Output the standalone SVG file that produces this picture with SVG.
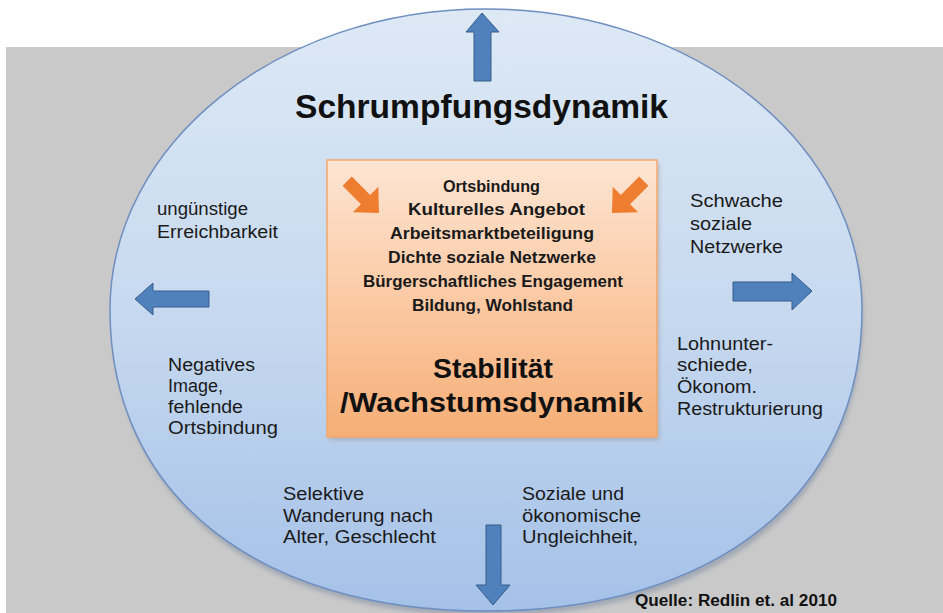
<svg xmlns="http://www.w3.org/2000/svg" width="943" height="613" viewBox="0 0 943 613">
  <defs>
    <linearGradient id="gEll" x1="0" y1="0" x2="0" y2="1">
      <stop offset="0" stop-color="#dde9f5"/>
      <stop offset="0.5" stop-color="#c7d9ef"/>
      <stop offset="1" stop-color="#a4c1e8"/>
    </linearGradient>
    <linearGradient id="gBox" x1="0" y1="0" x2="0" y2="1">
      <stop offset="0" stop-color="#fde5d3"/>
      <stop offset="0.5" stop-color="#fbcaa5"/>
      <stop offset="1" stop-color="#f6ae76"/>
    </linearGradient>
    <filter id="blur" x="-10%" y="-10%" width="120%" height="120%">
      <feGaussianBlur stdDeviation="2"/>
    </filter>
    <style>
      .lbl { font-family: "Liberation Sans", Arial, sans-serif; font-size: 17.5px; fill: #1a1a1a; }
      .box { font-family: "Liberation Sans", Arial, sans-serif; font-size: 17px; font-weight: bold; fill: #1a1a1a; }
      .big { font-family: "Liberation Sans", Arial, sans-serif; font-size: 28px; font-weight: bold; fill: #111; }
      .ttl { font-family: "Liberation Sans", Arial, sans-serif; font-size: 33px; font-weight: bold; fill: #111; }
      .src { font-family: "Liberation Sans", Arial, sans-serif; font-size: 16px; font-weight: bold; fill: #111; }
      .blue { fill: #4f81bd; stroke: #385d8a; stroke-width: 1; }
      .orange { fill: #ef7d2f; }
    </style>
  </defs>

  <g id="background">
    <rect x="0" y="0" width="943" height="613" fill="#ffffff"/>
    <rect x="6" y="47" width="937" height="566" fill="#c9c9c9"/>
  </g>

  <g id="circle">
    <path d="M112,313 C112,148 281,9 486,9 C691,9 862,148 862,313 C862,500 716,614 486,614 C256,614 112,500 112,313 Z" fill="#7d8aa0" opacity="0.5" filter="url(#blur)" transform="translate(1,2)"/>
    <path d="M110,310 C110,143.8 278,9 486,9 C694,9 862,143.8 862,310 C862,494.5 716,611 486,611 C256,611 110,494.5 110,310 Z" fill="url(#gEll)" stroke="#6f8fc0" stroke-width="1.5"/>
  </g>

  <g id="title">
    <text class="ttl" x="295" y="118" textLength="373" lengthAdjust="spacingAndGlyphs">Schrumpfungsdynamik</text>
  </g>

  <g id="center-box">
    <rect x="329" y="163" width="330" height="277" fill="#9a8a80" opacity="0.45" filter="url(#blur)"/>
    <rect x="327" y="160" width="330" height="277" fill="url(#gBox)" stroke="#f2a86c" stroke-width="1.5"/>
    <text class="box" x="443" y="192" textLength="97" lengthAdjust="spacingAndGlyphs">Ortsbindung</text>
    <text class="box" x="408" y="215" textLength="177" lengthAdjust="spacingAndGlyphs">Kulturelles Angebot</text>
    <text class="box" x="390" y="239" textLength="204" lengthAdjust="spacingAndGlyphs">Arbeitsmarktbeteiligung</text>
    <text class="box" x="388" y="263" textLength="208" lengthAdjust="spacingAndGlyphs">Dichte soziale Netzwerke</text>
    <text class="box" x="363" y="287" textLength="260" lengthAdjust="spacingAndGlyphs">Bürgerschaftliches Engagement</text>
    <text class="box" x="412" y="311" textLength="161" lengthAdjust="spacingAndGlyphs">Bildung, Wohlstand</text>
    <text class="big" x="433" y="378" textLength="120" lengthAdjust="spacingAndGlyphs">Stabilität</text>
    <text class="big" x="340" y="412" textLength="303" lengthAdjust="spacingAndGlyphs">/Wachstumsdynamik</text>
  </g>

  <g id="label-left-top">
    <text class="lbl" x="157" y="215" textLength="91" lengthAdjust="spacingAndGlyphs">ungünstige</text>
    <text class="lbl" x="157" y="238" textLength="121" lengthAdjust="spacingAndGlyphs">Erreichbarkeit</text>
  </g>
  <g id="label-left-bottom">
    <text class="lbl" x="168" y="371" textLength="87" lengthAdjust="spacingAndGlyphs">Negatives</text>
    <text class="lbl" x="168" y="392" textLength="55" lengthAdjust="spacingAndGlyphs">Image,</text>
    <text class="lbl" x="168" y="413" textLength="75" lengthAdjust="spacingAndGlyphs">fehlende</text>
    <text class="lbl" x="168" y="434" textLength="110" lengthAdjust="spacingAndGlyphs">Ortsbindung</text>
  </g>
  <g id="label-right-top">
    <text class="lbl" x="690" y="207" textLength="93" lengthAdjust="spacingAndGlyphs">Schwache</text>
    <text class="lbl" x="690" y="230" textLength="62" lengthAdjust="spacingAndGlyphs">soziale</text>
    <text class="lbl" x="690" y="253" textLength="93" lengthAdjust="spacingAndGlyphs">Netzwerke</text>
  </g>
  <g id="label-right-bottom">
    <text class="lbl" x="677" y="350" textLength="96" lengthAdjust="spacingAndGlyphs">Lohnunter-</text>
    <text class="lbl" x="677" y="371" textLength="76" lengthAdjust="spacingAndGlyphs">schiede,</text>
    <text class="lbl" x="677" y="393" textLength="80" lengthAdjust="spacingAndGlyphs">Ökonom.</text>
    <text class="lbl" x="677" y="415" textLength="146" lengthAdjust="spacingAndGlyphs">Restrukturierung</text>
  </g>
  <g id="label-bottom-left">
    <text class="lbl" x="283" y="500" textLength="81" lengthAdjust="spacingAndGlyphs">Selektive</text>
    <text class="lbl" x="283" y="522" textLength="150" lengthAdjust="spacingAndGlyphs">Wanderung nach</text>
    <text class="lbl" x="283" y="543" textLength="153" lengthAdjust="spacingAndGlyphs">Alter, Geschlecht</text>
  </g>
  <g id="label-bottom-right">
    <text class="lbl" x="522" y="500" textLength="102" lengthAdjust="spacingAndGlyphs">Soziale und</text>
    <text class="lbl" x="522" y="522" textLength="119" lengthAdjust="spacingAndGlyphs">ökonomische</text>
    <text class="lbl" x="522" y="543" textLength="116" lengthAdjust="spacingAndGlyphs">Ungleichheit,</text>
  </g>
  <g id="source">
    <text class="src" x="635" y="606" textLength="202" lengthAdjust="spacingAndGlyphs">Quelle: Redlin et. al 2010</text>
  </g>

  <g id="connectors">
    <polygon class="blue" points="482,13 499,32 491,32 491,81 474,81 474,32 466,32"/>
    <polygon class="blue" points="135,299 153,283 153,291 209,291 209,307 153,307 153,315"/>
    <polygon class="blue" points="812,291 792,273 792,282 733,282 733,301 792,301 792,310"/>
    <polygon class="blue" points="493,605 476,585 486,585 486,525 501,525 501,585 510,585"/>
    <polygon class="orange" points="0,0 -19,-18 -19,-6.5 -45,-6.5 -45,6.5 -19,6.5 -19,18" transform="translate(379,213) rotate(45)"/>
    <polygon class="orange" points="0,0 -19,-18 -19,-6.5 -45,-6.5 -45,6.5 -19,6.5 -19,18" transform="translate(612,213) rotate(135)"/>
  </g>
</svg>
